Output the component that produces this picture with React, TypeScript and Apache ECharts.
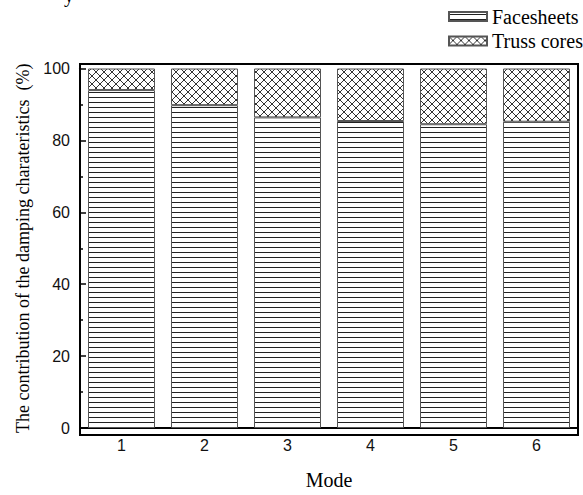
import React, { useEffect, useRef } from "react";
import * as echarts from "echarts";

const modes = ["1", "2", "3", "4", "5", "6"];
const facesheets = [94.0, 89.8, 86.4, 85.4, 84.5, 85.2];
const trussCores = [6.0, 10.2, 13.6, 14.6, 15.5, 14.8];
const yTicks = [0, 20, 40, 60, 80, 100];

function makeLinePattern() {
  const c = document.createElement("canvas");
  c.width = 8;
  c.height = 5;
  const ctx = c.getContext("2d")!;
  ctx.fillStyle = "#fff";
  ctx.fillRect(0, 0, 8, 5);
  ctx.fillStyle = "#222";
  ctx.fillRect(0, 2, 8, 1);
  return c;
}

function makeCrossPattern() {
  const s = 8;
  const c = document.createElement("canvas");
  c.width = s;
  c.height = s;
  const ctx = c.getContext("2d")!;
  ctx.fillStyle = "#fff";
  ctx.fillRect(0, 0, s, s);
  ctx.strokeStyle = "#333";
  ctx.lineWidth = 1;
  ctx.beginPath();
  ctx.moveTo(-1, -1);
  ctx.lineTo(s + 1, s + 1);
  ctx.moveTo(s + 1, -1);
  ctx.lineTo(-1, s + 1);
  ctx.stroke();
  return c;
}

export default function App() {
  const ref = useRef<HTMLDivElement>(null);
  useEffect(() => {
    if (!ref.current) return;
    const chart = echarts.init(ref.current, null, { renderer: "svg" });
    const lineImg = makeLinePattern();
    const crossImg = makeCrossPattern();
    const linePattern: any = { image: lineImg, repeat: "repeat", imageWidth: 8, imageHeight: 5 };
    const crossPattern: any = { image: crossImg, repeat: "repeat", imageWidth: 8, imageHeight: 8 };
    const serif = "'Liberation Serif', 'Times New Roman', serif";
    const sans = "'Liberation Sans', Arial, sans-serif";
    const gridTop = 68.5;
    const gridBottom = 60;
    chart.setOption({
      animation: false,
      backgroundColor: "#fff",
      grid: { left: 80, right: 5, top: gridTop, bottom: gridBottom, containLabel: false },
      legend: {
        orient: "vertical",
        left: 448,
        top: 6.5,
        padding: 0,
        icon: "rect",
        itemWidth: 38,
        itemHeight: 9,
        itemGap: 4.5,
        textStyle: { fontFamily: serif, fontSize: 20, color: "#000" },
        data: ["Facesheets", "Truss cores"],
      },
      xAxis: {
        type: "category",
        data: modes,
        name: "Mode",
        nameLocation: "middle",
        nameGap: 42,
        nameTextStyle: { fontFamily: serif, fontSize: 20, color: "#000" },
        axisLine: { lineStyle: { color: "#000", width: 2 } },
        axisTick: { show: false },
        axisLabel: { fontFamily: sans, fontSize: 16, color: "#111", margin: 9 },
      },
      yAxis: {
        type: "value",
        min: yTicks[0],
        max: yTicks[yTicks.length - 1],
        interval: 20,
        name: "The contribution of the damping charateristics  (%)",
        nameLocation: "middle",
        nameGap: 48,
        nameRotate: 90,
        nameTextStyle: { fontFamily: serif, fontSize: 18, color: "#000" },
        axisLine: { show: true, lineStyle: { color: "#000", width: 2 } },
        axisTick: { show: true, inside: true, length: 6, lineStyle: { color: "#000", width: 1.5 } },
        minorTick: { show: true, splitNumber: 2, length: 3, lineStyle: { color: "#000", width: 1.5 } },
        axisLabel: { fontFamily: sans, fontSize: 16, color: "#111", margin: 10 },
        splitLine: { show: false },
      },
      graphic: [
        {
          type: "rect",
          shape: { x: 80, y: 64, width: 498, height: 495 - gridBottom - 64 },
          style: { fill: "transparent", stroke: "#000", lineWidth: 2 },
          z: 100,
          silent: true,
        },
        {
          type: "text",
          x: 64,
          y: -15,
          style: { text: "y", fontFamily: serif, fontSize: 20, fill: "#000" },
        },
      ],
      series: [
        {
          name: "Facesheets",
          type: "bar",
          stack: "total",
          barWidth: 67,
          data: facesheets,
          itemStyle: { color: linePattern, borderColor: "#555", borderWidth: 1 },
        },
        {
          name: "Truss cores",
          type: "bar",
          stack: "total",
          barWidth: 67,
          data: trussCores,
          itemStyle: { color: crossPattern, borderColor: "#555", borderWidth: 1 },
        },
      ],
    });
    return () => chart.dispose();
  }, []);
  return <div ref={ref} style={{ width: 583, height: 495, position: "absolute", left: 0, top: 0 }} />;
}
